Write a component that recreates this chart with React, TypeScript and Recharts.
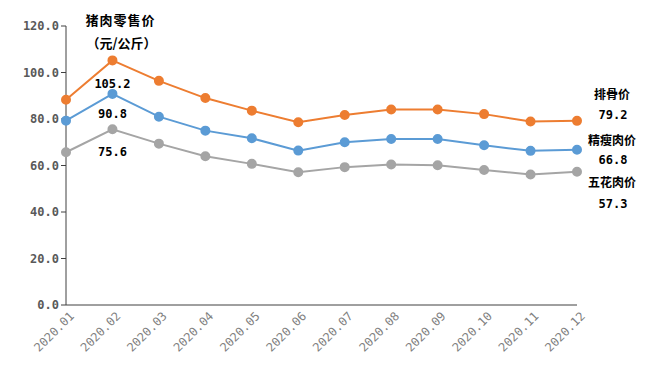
import React from 'react'
import { LineChart, Line, XAxis, YAxis, LabelList } from 'recharts'

const months = ['2020.01', '2020.02', '2020.03', '2020.04', '2020.05', '2020.06', '2020.07', '2020.08', '2020.09', '2020.10', '2020.11', '2020.12']
const ribs = [88.3, 105.2, 96.4, 89.0, 83.6, 78.6, 81.7, 84.1, 84.1, 82.1, 78.9, 79.2]
const lean = [79.3, 90.8, 81.0, 75.0, 71.7, 66.4, 70.0, 71.4, 71.4, 68.7, 66.3, 66.8]
const belly = [65.7, 75.6, 69.4, 64.0, 60.7, 57.1, 59.3, 60.4, 60.1, 58.1, 56.1, 57.3]
const yTicks = [0, 20, 40, 60, 80, 100, 120]

const data = months.map((m, i) => ({ month: m, ribs: ribs[i], lean: lean[i], belly: belly[i] }))

const MONO = '"DejaVu Sans Mono", monospace'
const CJK = '"Noto Sans CJK SC", sans-serif'

const XTick = (props: any) => {
	const { x, y, payload } = props
	return (
		<text x={x + 6} y={y + 1} transform={`rotate(-45 ${x + 6} ${y + 1})`} textAnchor="end" dominantBaseline="central"
			fontFamily={MONO} fontSize={12} fill="#7f7f7f">
			{payload.value}
		</text>
	)
}

// 标注：第二个点下方写数值，最后一个点右侧写名称和数值
const makeLabel = (name: string, below: number, nameDy: number, valDy: number, title?: boolean) => (props: any) => {
	const { x, y, value, index } = props
	const txt = { fontFamily: MONO, fontSize: 12, fontWeight: 'bold', fill: '#000', textAnchor: 'middle' as const }
	if (index === 1) {
		return (
			<g>
				{title && (
					<text x={x + 8} y={y - 35} {...txt} fontFamily={CJK} fontSize={13} letterSpacing={1}>猪肉零售价</text>
				)}
				{title && (
					<text x={x + 9} y={y - 12} {...txt} fontFamily={CJK} fontSize={13}>（元/公斤）</text>
				)}
				<text x={x} y={y + below} {...txt}>{Number(value).toFixed(1)}</text>
			</g>
		)
	}
	if (index === months.length - 1) {
		return (
			<g>
				<text x={x + 35} y={y + nameDy} {...txt} fontFamily={CJK} fontSize={12}>{name}</text>
				<text x={x + 36} y={y + valDy} {...txt}>{Number(value).toFixed(1)}</text>
			</g>
		)
	}
	return null
}

export default function App() {
	return (
		<div style={{ position: 'absolute', left: 0, top: 0 }}>
			<LineChart width={651} height={373} data={data} margin={{ top: 26, right: 74, left: 10, bottom: 0 }}>
				<XAxis dataKey="month" height={68} tick={<XTick />} tickLine={false} axisLine={{ stroke: '#404040' }} interval={0} />
				<YAxis domain={[0, 120]} ticks={yTicks} width={56} tickFormatter={(v: number) => v.toFixed(1)}
					axisLine={{ stroke: '#404040' }} tickLine={{ stroke: '#404040' }} tickSize={5}
					tick={{ fontFamily: MONO, fontSize: 12, fontWeight: 'bold', fill: '#595959' }} />
				<Line dataKey="ribs" stroke="#ED7D31" strokeWidth={2} dot={{ r: 4, fill: '#ED7D31', stroke: '#ED7D31' }} isAnimationActive={false}>
					<LabelList dataKey="ribs" content={makeLabel('排骨价', 28, -22, -2, true)} />
				</Line>
				<Line dataKey="lean" stroke="#5B9BD5" strokeWidth={2} dot={{ r: 4, fill: '#5B9BD5', stroke: '#5B9BD5' }} isAnimationActive={false}>
					<LabelList dataKey="lean" content={makeLabel('精瘦肉价', 24, -5, 14)} />
				</Line>
				<Line dataKey="belly" stroke="#A5A5A5" strokeWidth={2} dot={{ r: 4, fill: '#A5A5A5', stroke: '#A5A5A5' }} isAnimationActive={false}>
					<LabelList dataKey="belly" content={makeLabel('五花肉价', 27, 15, 36)} />
				</Line>
			</LineChart>
		</div>
	)
}
